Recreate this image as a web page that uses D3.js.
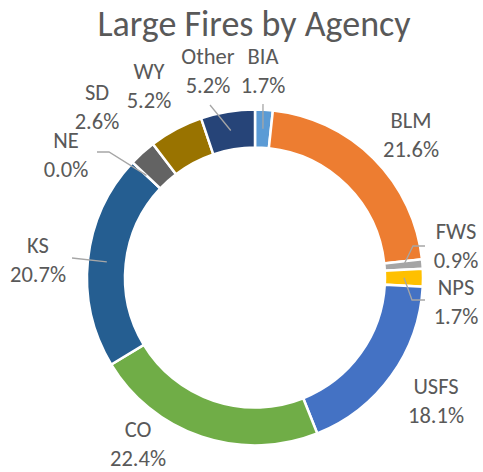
<!DOCTYPE html>
<html>
<head>
<meta charset="utf-8">
<script src="https://cdn.jsdelivr.net/npm/d3@7"></script>
<style>
  body { margin: 0; background: #fff; }
  text { font-family: Carlito, Lato, "Open Sans", sans-serif; fill: #595959; }
</style>
</head>
<body>
<svg id="chart" width="483" height="472"></svg>
<script>
// data
var agencies = ["BIA", "BLM", "FWS", "NPS", "USFS", "CO", "KS", "NE", "SD", "WY", "Other"];
var shares   = [1.7, 21.6, 0.9, 1.7, 18.1, 22.4, 20.7, 0.0, 2.6, 5.2, 5.2];
var colors   = ["#5B9BD5", "#ED7D31", "#A5A5A5", "#FFC000", "#4472C4", "#70AD47",
                "#255E91", "#9E480E", "#636363", "#997300", "#264478"];

// label layout: x center, baseline of first line, optional leader line points
var labelLayout = {
  "BIA":   { x: 263, y: 64,  line: [[263, 104]] },
  "BLM":   { x: 411, y: 128 },
  "FWS":   { x: 456, y: 239, line: [[425, 246], [413, 246]] },
  "NPS":   { x: 456, y: 295, line: [[425, 300], [412, 300]] },
  "USFS":  { x: 436, y: 394 },
  "CO":    { x: 138, y: 437 },
  "KS":    { x: 38,  y: 253, line: [[72, 258]] },
  "NE":    { x: 66,  y: 148, line: [[97, 152], [109, 152]] },
  "SD":    { x: 97,  y: 100 },
  "WY":    { x: 149, y: 79 },
  "Other": { x: 208, y: 64,  line: [[210, 105]] }
};

var width = 483, height = 472,
    cx = 255, cy = 277.5,
    outerR = 168, innerR = 130;

var svg = d3.select("#chart");

svg.append("text")
  .attr("x", 254).attr("y", 36)
  .attr("text-anchor", "middle")
  .style("font-size", "36px")
  .text("Large Fires by Agency");

var data = agencies.map(function(a, i) { return { name: a, value: shares[i], color: colors[i] }; });

var pie = d3.pie()
  .value(function(d) { return d.value; })
  .sort(null);

var arc = d3.arc()
  .innerRadius(innerR)
  .outerRadius(outerR);

var g = svg.append("g").attr("transform", "translate(" + cx + "," + cy + ")");

var arcs = pie(data);

g.selectAll("path.slice")
  .data(arcs)
  .enter()
  .append("path")
    .attr("class", "slice")
    .attr("d", arc)
    .style("fill", function(d) { return d.data.color; })
    .style("stroke", "#fff")
    .style("stroke-width", 2.5);

// leader lines
arcs.forEach(function(d) {
  var lay = labelLayout[d.data.name];
  if (!lay.line) return;
  var c = arc.centroid(d);
  var pts = lay.line.map(function(p) { return [p[0], p[1]]; });
  pts.push([c[0] + cx, c[1] + cy]);
  svg.append("path")
    .attr("d", d3.line()(pts))
    .style("fill", "none")
    .style("stroke", "#A6A6A6")
    .style("stroke-width", 1.3);
});

// labels
arcs.forEach(function(d) {
  var lay = labelLayout[d.data.name];
  var t = svg.append("text")
    .attr("text-anchor", "middle")
    .style("font-size", "22.5px");
  t.append("tspan").attr("x", lay.x).attr("y", lay.y).text(d.data.name);
  t.append("tspan").attr("x", lay.x).attr("y", lay.y + 29).text(d.data.value.toFixed(1) + "%");
});
</script>
</body>
</html>
